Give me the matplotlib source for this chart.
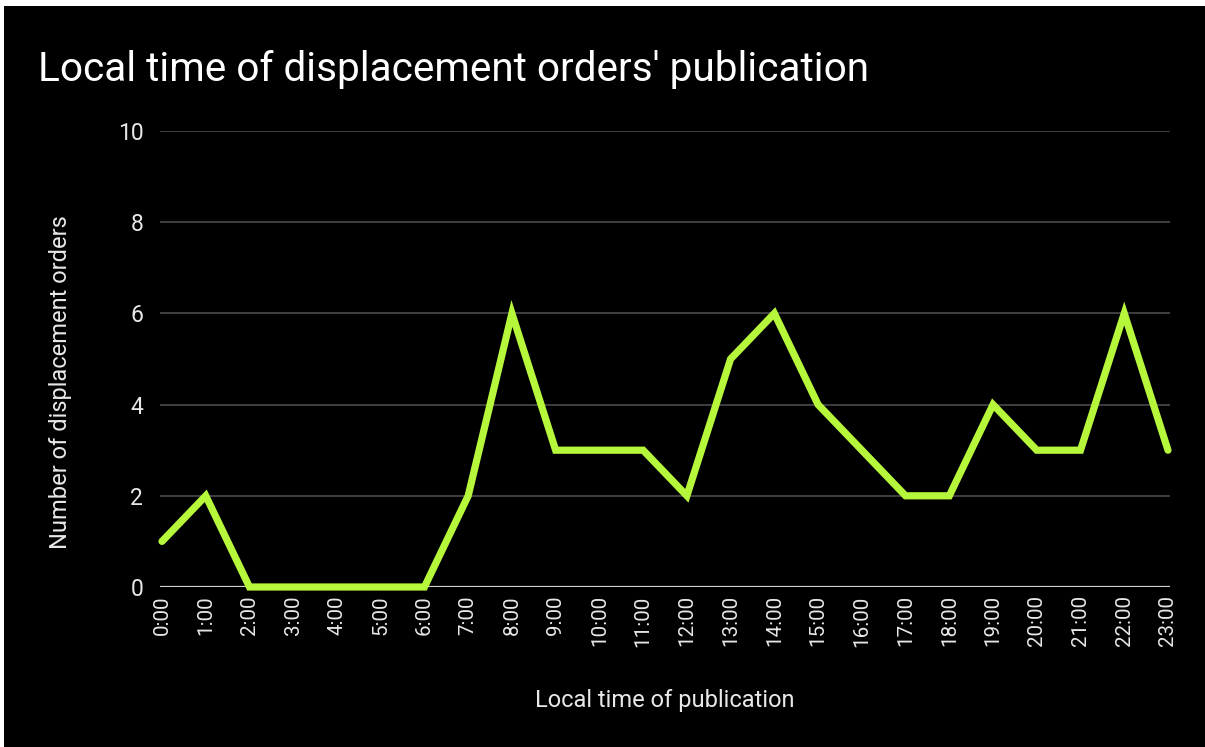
import matplotlib.pyplot as plt
from matplotlib.patches import Rectangle

# Data
hours = [f"{h}:00" for h in range(24)]
orders = [1, 2, 0, 0, 0, 0, 0, 2, 6, 3, 3, 3, 2, 5, 6, 4, 3, 2, 2, 4, 3, 3, 6, 3]
yticks = [0, 2, 4, 6, 8, 10]

plt.rcParams["font.family"] = ["Roboto", "DejaVu Sans"]

fig = plt.figure(figsize=(12.05, 7.47), dpi=100, facecolor="white")
# black panel with thin white margin at top/left like the screenshot
fig.add_artist(Rectangle((4 / 1205, 0), 1, 1 - 6 / 747, transform=fig.transFigure,
                         facecolor="black", edgecolor="none", zorder=-5))

ax = fig.add_axes([160 / 1205, 160 / 747, (1170 - 160) / 1205, (587 - 131) / 747])
ax.set_facecolor("black")
x = list(range(len(hours)))
ax.plot(x, orders, color="#b6f73c", lw=5.2, solid_joinstyle="miter",
        solid_capstyle="round", zorder=3, clip_on=False)

ax.set_xlim(-2 / 43.7, 23 + 2 / 43.7)
ax.set_ylim(0, 10)
ax.set_yticks(yticks)
ax.set_xticks(x)
ax.set_xticklabels(hours, rotation=90)
ax.grid(axis="y", color="#4a4a4a", lw=1.2)
ax.axhline(0, color="#cfcfcf", lw=1.6, zorder=2)
for s in ax.spines.values():
    s.set_visible(False)
ax.tick_params(length=0, colors="#e8e8e8")
ax.tick_params(axis="y", pad=12, labelsize=16.5)
ax.tick_params(axis="x", pad=6, labelsize=14.8)

ax.set_ylabel("Number of displacement orders", color="#e8e8e8", fontsize=17, va="center")
ax.yaxis.set_label_coords(-0.099, 0.45)
ax.set_xlabel("Local time of publication", color="#e8e8e8", fontsize=17, va="center")
ax.xaxis.set_label_coords(0.5, -0.25)
fig.text(38 / 1205, 1 - 81 / 747, "Local time of displacement orders' publication",
         color="white", fontsize=29.2, ha="left", va="baseline")

fig.savefig("out.png", dpi=100, facecolor=fig.get_facecolor())
